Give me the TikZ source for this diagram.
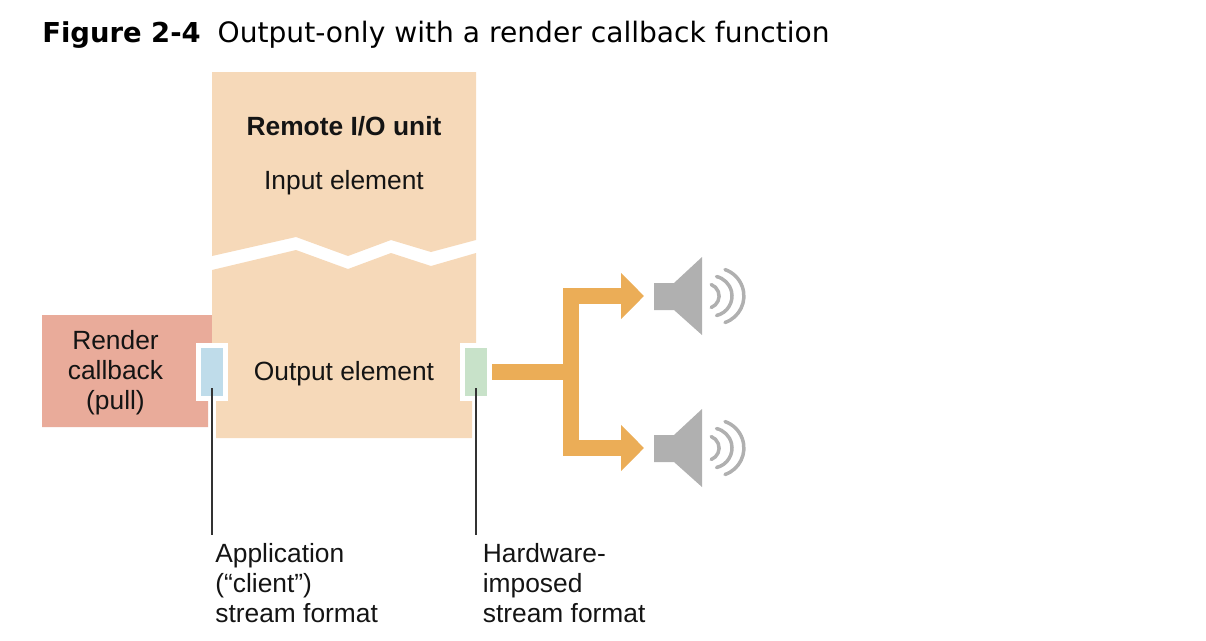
\documentclass[tikz,border=0pt]{standalone}
\usepackage{fontspec}
\setmainfont{Liberation Sans}
\newfontfamily\titlefont{DejaVu Sans}
\usetikzlibrary{arrows.meta}
\definecolor{unit_fill}{HTML}{F6D9B9}
\definecolor{render_fill}{HTML}{E9AB9A}
\definecolor{client_fill}{HTML}{BFDCEA}
\definecolor{hw_fill}{HTML}{C8E2C9}
\definecolor{feed_color}{HTML}{EBAD57}
\definecolor{speaker_color}{HTML}{B0B0B0}
\definecolor{leader_color}{HTML}{333333}
\tikzset{
        label_text/.style={align=left,inner sep=0pt,font=\fontsize{15}{17}\selectfont,text=black!92},
        % Text inside the unit and callback
        center_text/.style={label_text,align=center},
        % Stream format boxes
        format_box/.style={rectangle,draw=white,line width=0.1cm,inner sep=0pt,minimum width=0.54cm,minimum height=1.06cm},
        % Leader lines
        leader/.style={leader_color,line width=0.054cm},
        % Orange lines
        feed_line/.style={feed_color,line width=0.32cm},
        feed_tip/.style={-{Triangle[length=0.46cm,width=0.9cm,sep=0pt]}},
        % Speaker with its waves
        speaker/.pic={
            \fill[speaker_color] (654,283) -- (674,283) -- (702,257) -- (702,335) -- (674,310) -- (654,310) -- cycle;
            \draw[speaker_color,line width=0.07cm,line cap=round]
                (711.2,307.5) arc[start angle=-69,end angle=69,radius=0.246cm]
                (716.5,315.5) arc[start angle=-77,end angle=77,radius=0.4cm]
                (725,322.5) arc[start angle=-71,end angle=71,radius=0.56cm];
        }
}
\begin{document}
\begin{tikzpicture}[x=0.02cm,y=-0.02cm]
    \useasboundingbox (0,0) rectangle (1206,640);
    \node[anchor=base west,inner sep=0pt,font=\titlefont\fontsize{16}{18}\selectfont] (title) at (42,42) {{\fontsize{15.6}{18}\selectfont\textbf{Figure 2-4}}\hspace{0.6em}Output-only with a render callback function};

    % callback and unit
    \fill[render_fill] (42,315) -- (212,315) -- (212,372) -- (208,372) -- (208,427) -- (42,427) -- cycle;
    \fill[unit_fill] (212,72) -- (476,72) -- (476,240) -- (431,252) -- (391,240) -- (348,256) -- (296,237) -- (212,256) -- cycle;
    \fill[unit_fill] (212,270) -- (296,250) -- (348,269) -- (391,253) -- (431,266) -- (476,253) -- (476,372) -- (472,372) -- (472,438) -- (216,438) -- (216,372) -- (212,372) -- cycle;

    \node[center_text] (render) at (115.5,372.5) {Render\\callback\\(pull)};
    \node[center_text,font=\fontsize{15}{17}\selectfont\bfseries] (remote) at (344,126) {Remote I/O unit};
    \node[center_text] (input) at (344,182.5) {Input element};
    \node[center_text] (output) at (344,374) {Output element};

    \node[format_box,fill=client_fill] (client) at (212,372) {};
    \node[format_box,fill=hw_fill] (hardware) at (475.5,372) {};

    % leaders
    \coordinate (client_in) at (212,388);
    \coordinate (client_end) at (212,535);
    \coordinate (hardware_in) at (476,388);
    \coordinate (hardware_end) at (476,535);
    \draw[leader] (client_in) -- (client_end);
    \draw[leader] (hardware_in) -- (hardware_end);
    \node[label_text,anchor=north west] (client_label) at (215,543) {Application\\(“client”)\\stream format};
    \node[label_text,anchor=north west] (hardware_label) at (482.5,543) {Hardware-\\imposed\\stream format};

    % output branch
    \coordinate (feed_start) at (492,372);
    \coordinate (feed_mid) at (571,372);
    \coordinate (top_tip) at (644,296);
    \coordinate (bottom_tip) at (644,448);
    \draw[feed_line] (feed_start) -- (feed_mid);
    \draw[feed_line,feed_tip] (feed_mid) |- (top_tip);
    \draw[feed_line,feed_tip] (feed_mid) |- (bottom_tip);

    \pic at (0,0) {speaker};
    \pic at (0,152) {speaker};
\end{tikzpicture}
\end{document}
